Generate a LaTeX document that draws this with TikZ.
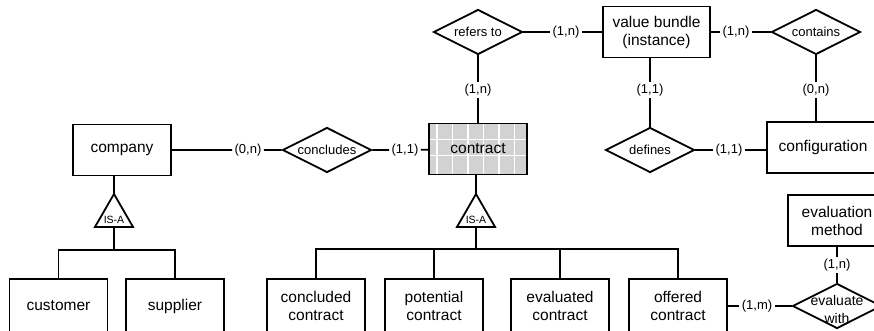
\documentclass[tikz,border=0pt]{standalone}
\usepackage{fontspec}
\setmainfont{Liberation Sans}
\usetikzlibrary{shapes.geometric, positioning}

\begin{document}
\begin{tikzpicture}[x=1pt, y=-1pt, line width=1.8pt,
  E/.style={rectangle, draw, minimum width=98pt, minimum height=51pt, inner sep=0pt,
    align=center, font=\fontsize{15.5}{18}\selectfont},
  Eb/.style={E, minimum height=54pt},
  R/.style={diamond, draw, minimum width=89pt, minimum height=45pt, inner sep=0pt},
  Rt/.style={font=\fontsize{13}{15}\selectfont, align=center},
  C/.style={inner sep=1.5pt, font=\fontsize{13}{15}\selectfont},
  ISA/.style={regular polygon, regular polygon sides=3, draw, minimum size=44pt,
    inner sep=0pt, outer sep=0pt,
    label={[font=\fontsize{10.5}{12}\selectfont, yshift=-4pt]center:IS-A}},
  Grid/.style={path picture={
    \fill[gray!35] (path picture bounding box.south west) rectangle (path picture bounding box.north east);
    \foreach \k in {1,...,6}
      \draw[white, line width=1.2pt] ([xshift=\k*15.5pt-7.5pt]path picture bounding box.north west)
        -- ([xshift=\k*15.5pt-7.5pt]path picture bounding box.south west);
    \foreach \k in {1,2}
      \draw[white, line width=1.2pt] ([yshift=-\k*16pt]path picture bounding box.north west)
        -- ([yshift=-\k*16pt]path picture bounding box.north east);}}]
\useasboundingbox (0,0) rectangle (874,331);
\clip (0,0) rectangle (874,331);
% entities
\node[E] (company) at (122,150) {company};
\node[E, Grid] (contract) at (478,149) {contract};
\node[E, minimum width=107pt] (bundle) at (656.5,32) {value bundle\\(instance)};
\node[E, minimum width=112pt] (config) at (823,147.5) {configuration};
\node[E] (evalmethod) at (837,220.5) {evaluation\\method};
\node[Eb] (customer) at (58.5,306) {customer};
\node[Eb] (supplier) at (175,306) {supplier};
\node[Eb] (concluded) at (316,306) {concluded\\contract};
\node[Eb] (potential) at (434,306) {potential\\contract};
\node[Eb] (evaluated) at (560,306) {evaluated\\contract};
\node[Eb] (offered) at (678,306) {offered\\contract};
% relationships
\node[R, label={[Rt]center:concludes}] (concludes) at (327,150) {};
\node[R, label={[Rt]center:refers to}] (refers) at (478,32) {};
\node[R, label={[Rt]center:contains}] (contains) at (816,32) {};
\node[R, label={[Rt]center:defines}] (defines) at (650,150) {};
\node[R, label={[Rt, font=\fontsize{14}{18}\selectfont, yshift=-3pt]center:evaluate\\with}] (evalwith) at (837,306) {};
% generalisations
\node[ISA] (isa1) at (114,216) {};
\node[ISA] (isa2) at (476,216) {};
\coordinate (j1) at (114,250);
\coordinate (j2) at (476,249);
% cardinalities
\node[C] (c1) at (248,150) {(0,n)};
\node[C] (c2) at (405,150) {(1,1)};
\node[C] (c3) at (478,90) {(1,n)};
\node[C] (c4) at (566,32) {(1,n)};
\node[C] (c5) at (736,32) {(1,n)};
\node[C] (c6) at (816,90) {(0,n)};
\node[C] (c7) at (650,90) {(1,1)};
\node[C] (c8) at (729,150) {(1,1)};
\node[C] (c9) at (837,265) {(1,n)};
\node[C] (c10) at (757,306) {(1,m)};
% connectors
\draw (company) -- (c1) -- (concludes) -- (c2) -- (contract);
\draw (refers) -- (c3) -- (contract);
\draw (refers) -- (c4) -- (bundle) -- (c5) -- (contains);
\draw (contains) -- (c6) -- (c6 |- config.north);
\draw (defines) -- (c7) -- (c7 |- bundle.south);
\draw (defines) -- (c8) -- (c8 -| config.west);
\draw (evalmethod) -- (c9) -- (evalwith);
\draw (offered) -- (c10) -- (evalwith);
\draw (isa1.corner 1) -- (isa1.corner 1 |- company.south);
\draw (isa1.side 2) -- (j1);
\draw (customer) |- (j1) -| (supplier);
\draw (isa2.corner 1) -- (isa2.corner 1 |- contract.south);
\draw (isa2.side 2) -- (j2);
\draw (concluded) |- (j2) -| (offered);
\draw (potential) -- (potential |- j2);
\draw (evaluated) -- (evaluated |- j2);
\end{tikzpicture}
\end{document}
